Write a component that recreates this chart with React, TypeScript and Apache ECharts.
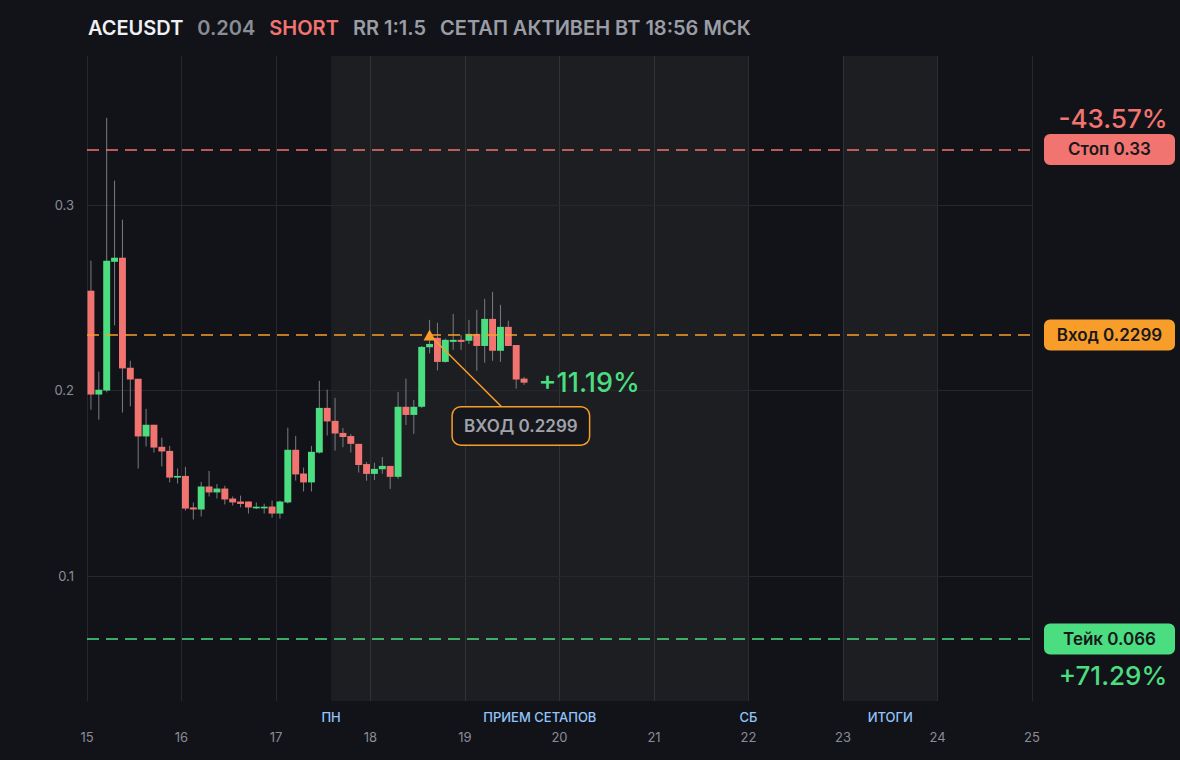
import React, { useEffect, useRef } from "react";
import * as echarts from "echarts";

// ---- data ----
const START_DAY = 15;
const CANDLE_HOURS = 2;
const opens = [
  0.2538, 0.1978, 0.2, 0.2694, 0.2716, 0.2122, 0.2063, 0.1752, 0.1815, 0.1696,
  0.1674, 0.153, 0.1539, 0.1369, 0.1358, 0.1482, 0.145, 0.1471, 0.1417, 0.1401,
  0.1401, 0.1364, 0.1364, 0.1374, 0.1336, 0.1396, 0.168, 0.1552, 0.1504, 0.1665,
  0.1906, 0.1836, 0.1771, 0.1754, 0.1712, 0.1603, 0.155, 0.1575, 0.1593, 0.1534,
  0.1912, 0.1868, 0.1912, 0.2233, 0.2284, 0.2154, 0.2262, 0.2273, 0.2268, 0.2305,
  0.224, 0.2386, 0.2214, 0.2343, 0.2245, 0.2064,
];
const closes = [
  0.1978, 0.2004, 0.27, 0.2716, 0.2119, 0.2059, 0.1752, 0.1815, 0.1692, 0.1671,
  0.153, 0.1539, 0.1363, 0.1358, 0.1482, 0.145, 0.1471, 0.1412, 0.1396, 0.1388,
  0.1369, 0.1373, 0.1373, 0.1336, 0.1401, 0.168, 0.1547, 0.1504, 0.1669, 0.1906,
  0.1833, 0.1768, 0.1749, 0.1712, 0.1598, 0.155, 0.1577, 0.1593, 0.1534, 0.1912,
  0.1868, 0.1912, 0.2235, 0.2251, 0.2154, 0.2273, 0.2273, 0.2262, 0.2305, 0.224,
  0.2386, 0.2214, 0.2343, 0.224, 0.2059, 0.2042,
];
const lows = [
  0.1896, 0.1842, 0.199, 0.2351, 0.1881, 0.1914, 0.1579, 0.1698, 0.1665, 0.159,
  0.1504, 0.1498, 0.1352, 0.1304, 0.132, 0.1428, 0.1417, 0.1385, 0.1379, 0.1369,
  0.1336, 0.136, 0.1336, 0.1314, 0.1309, 0.139, 0.1514, 0.1455, 0.1455, 0.166,
  0.1757, 0.1676, 0.1694, 0.1665, 0.1557, 0.1513, 0.1517, 0.155, 0.1469, 0.1523,
  0.1814, 0.1766, 0.1905, 0.22, 0.2108, 0.215, 0.2219, 0.2219, 0.225, 0.2106,
  0.2149, 0.216, 0.2154, 0.224, 0.201, 0.203,
];
const highs = [
  0.27, 0.2101, 0.3471, 0.3132, 0.2921, 0.216, 0.2063, 0.1901, 0.1815, 0.1745,
  0.1701, 0.1579, 0.1588, 0.1396, 0.1507, 0.1566, 0.1495, 0.1486, 0.1428, 0.1433,
  0.1401, 0.1396, 0.1389, 0.1406, 0.1406, 0.1799, 0.1755, 0.1584, 0.1701, 0.2052,
  0.2004, 0.196, 0.1798, 0.1765, 0.1712, 0.1614, 0.161, 0.1641, 0.1593, 0.1992,
  0.2064, 0.1949, 0.224, 0.2381, 0.2365, 0.228, 0.2413, 0.23, 0.2381, 0.2435,
  0.2494, 0.2532, 0.2462, 0.2376, 0.2245, 0.2073,
];

const dayTicks = [15, 16, 17, 18, 19, 20, 21, 22, 23, 24, 25];
const priceTicks = [0.1, 0.2, 0.3];

const STOP = 0.33;
const ENTRY = 0.2299;
const TAKE = 0.066;
const ENTRY_INDEX = 43;
const stopText = "Стоп 0.33";
const entryText = "Вход 0.2299";
const takeText = "Тейк 0.066";
const stopPct = "-43.57%";
const takePct = "+71.29%";
const currentPct = "+11.19%";
const calloutText = "ВХОД 0.2299";
const calloutAnchor = [19.39, 0.1911];

const sessionNames = ["ПРИЕМ СЕТАПОВ", "ИТОГИ"];
const sessionStarts = [17.5833, 23];
const sessionEnds = [22, 24];
const edgeNames = ["ПН", "СБ"];
const edgeDays = [17.5833, 22];

// ---- style ----
const BG = "#121318";
const GRID = "#27282d";
const GREEN = "#4ade80";
const RED = "#f27470";
const ORANGE = "#f99d2a";
const WICK = "#7a7c82";
const GRAY = "#8a8d96";
const BLUE = "#93c5fd";
const FONT = "Inter";

const candleTime = (i: number) => START_DAY + ((i + 0.5) * CANDLE_HOURS) / 24;

export default function App() {
  const ref = useRef<HTMLDivElement>(null);
  useEffect(() => {
    document.body.style.margin = "0";
    document.body.style.background = BG;
    const chart = echarts.init(ref.current!, undefined, { renderer: "svg" });
    const candles = opens.map((o, i) => [candleTime(i), o, closes[i], lows[i], highs[i]]);
    const last = candles.length - 1;
    const xEnd = dayTicks[dayTicks.length - 1];

    const pill = (text: string, color: string) => ({
      show: true,
      position: "inside",
      offset: [77.5, 0],
      formatter: text,
      backgroundColor: color,
      borderRadius: 6,
      width: 131,
      height: 31,
      lineHeight: 31,
      align: "center",
      verticalAlign: "middle",
      color: "#17181c",
      fontSize: 17,
      fontWeight: 600,
      fontFamily: FONT,
    });
    const pct = (text: string, color: string, dy: number) => ({
      show: true,
      position: "inside",
      offset: [81, dy],
      formatter: text,
      color,
      fontSize: 26,
      fontWeight: 500,
      fontFamily: FONT,
    });
    const hidden = { color: "rgba(0,0,0,0)" };

    chart.setOption({
      animation: false,
      backgroundColor: BG,
      textStyle: { fontFamily: FONT },
      title: {
        left: 88,
        top: 18,
        padding: 0,
        text: `{w|ACEUSDT}{g|0.204}{r|SHORT}{l|RR 1:1.5}{l|СЕТАП АКТИВЕН ВТ 18:56 МСК}`,
        textStyle: {
          rich: {
            w: { color: "#eef0f3", fontSize: 20, fontWeight: 600, fontFamily: FONT },
            g: { color: GRAY, fontSize: 20, fontWeight: 600, fontFamily: FONT, padding: [0, 0, 0, 14] },
            r: { color: RED, fontSize: 20, fontWeight: 600, fontFamily: FONT, padding: [0, 0, 0, 14] },
            l: { color: "#9a9da6", fontSize: 20, fontWeight: 600, fontFamily: FONT, padding: [0, 0, 0, 14] },
          },
        },
      },
      grid: { left: 87, right: 148, top: 56, bottom: 59 },
      xAxis: {
        type: "value",
        min: dayTicks[0],
        max: xEnd,
        interval: 1,
        axisLine: { show: false },
        axisTick: { show: false },
        splitLine: { show: true, lineStyle: { color: GRID, width: 1 } },
        axisLabel: { color: GRAY, fontSize: 13, margin: 29, fontFamily: FONT },
      },
      yAxis: {
        type: "value",
        min: 0.0325,
        max: 0.3804,
        axisLine: { show: false },
        axisTick: { show: false },
        splitLine: { show: false },
        axisLabel: {
          customValues: priceTicks,
          color: GRAY,
          fontSize: 13,
          margin: 13,
          fontFamily: FONT,
          formatter: (v: number) => String(v),
        },
      },
      series: [
        {
          type: "line",
          z: 1,
          data: [],
          silent: true,
          markArea: {
            silent: true,
            z: 1,
            itemStyle: { color: "rgba(255,255,255,0.048)" },
            label: {
              show: true,
              position: "bottom",
              distance: 9,
              color: BLUE,
              fontSize: 13,
              fontWeight: 500,
              fontFamily: FONT,
            },
            data: sessionNames.map((n, i) => [
              { name: n, xAxis: sessionStarts[i] },
              { xAxis: sessionEnds[i] },
            ]),
          },
          markLine: {
            silent: true,
            z: 1,
            precision: 6,
            symbol: ["none", "none"],
            data: [
              ...priceTicks.map((v) => ({
                yAxis: v,
                lineStyle: { color: GRID, width: 1, type: "solid" },
                label: { show: false },
              })),
              ...edgeNames.map((n, i) => ({
                xAxis: edgeDays[i],
                lineStyle: { color: "rgba(0,0,0,0)", width: 0 },
                label: {
                  show: true,
                  position: "start",
                  distance: 9,
                  formatter: n,
                  color: BLUE,
                  fontSize: 13,
                  fontWeight: 500,
                  fontFamily: FONT,
                },
              })),
            ],
          },
        },
        {
          type: "custom",
          z: 3,
          data: candles,
          encode: { x: 0, y: [1, 2, 3, 4] },
          renderItem: (params: any, api: any) => {
            const x = api.value(0);
            const o = api.value(1);
            const c = api.value(2);
            const l = api.value(3);
            const h = api.value(4);
            const pO = api.coord([x, o]);
            const pC = api.coord([x, c]);
            const pL = api.coord([x, l]);
            const pH = api.coord([x, h]);
            const w = api.size([CANDLE_HOURS / 24, 0])[0] * 0.88;
            const top = Math.min(pO[1], pC[1]);
            const bh = Math.max(Math.abs(pO[1] - pC[1]), 1.5);
            return {
              type: "group",
              children: [
                {
                  type: "line",
                  shape: { x1: pH[0], y1: pH[1], x2: pL[0], y2: pL[1] },
                  style: { stroke: WICK, lineWidth: 1 },
                },
                {
                  type: "rect",
                  shape: { x: pO[0] - w / 2, y: top, width: w, height: bh },
                  style: { fill: c >= o ? GREEN : RED },
                },
              ],
            };
          },
        },
        {
          type: "line",
          z: 5,
          data: [],
          markLine: {
            silent: true,
            z: 5,
            precision: 6,
            symbol: ["none", "none"],
            label: { show: false },
            data: [
              { yAxis: STOP, lineStyle: { color: RED, width: 1.5, type: [12, 7] } },
              { yAxis: ENTRY, lineStyle: { color: ORANGE, width: 1.5, type: [12, 7] } },
              { yAxis: TAKE, lineStyle: { color: GREEN, width: 1.5, type: [12, 7] } },
              [
                { coord: [candleTime(ENTRY_INDEX), ENTRY], lineStyle: { color: ORANGE, width: 1.5, type: "solid" } },
                { coord: calloutAnchor },
              ],
            ],
          },
          markPoint: {
            silent: true,
            z: 6,
            data: [
              {
                coord: [candleTime(ENTRY_INDEX), ENTRY],
                symbol: "triangle",
                symbolSize: [12, 11],
                itemStyle: { color: ORANGE },
                label: { show: false },
              },
              {
                coord: calloutAnchor,
                symbol: "circle",
                symbolSize: 1,
                itemStyle: hidden,
                label: {
                  show: true,
                  position: "inside",
                  offset: [19, 19],
                  formatter: calloutText,
                  backgroundColor: "#16171c",
                  borderColor: ORANGE,
                  borderWidth: 1.5,
                  borderRadius: 8,
                  width: 136,
                  height: 37,
                  lineHeight: 37,
                  align: "center",
                  verticalAlign: "middle",
                  color: "#a0a3ab",
                  fontSize: 17,
                  fontWeight: 600,
                  fontFamily: FONT,
                },
              },
              {
                coord: [candles[last][0], closes[last]],
                symbol: "circle",
                symbolSize: 1,
                itemStyle: hidden,
                label: {
                  show: true,
                  position: "right",
                  distance: 14,
                  formatter: currentPct,
                  color: GREEN,
                  fontSize: 27,
                  fontWeight: 500,
                  fontFamily: FONT,
                },
              },
              { coord: [xEnd, STOP], symbol: "circle", symbolSize: 1, itemStyle: hidden, label: pill(stopText, RED) },
              { coord: [xEnd, ENTRY], symbol: "circle", symbolSize: 1, itemStyle: hidden, label: pill(entryText, ORANGE) },
              { coord: [xEnd, TAKE], symbol: "circle", symbolSize: 1, itemStyle: hidden, label: pill(takeText, GREEN) },
              { coord: [xEnd, STOP], symbol: "circle", symbolSize: 1, itemStyle: hidden, label: pct(stopPct, RED, -31) },
              { coord: [xEnd, TAKE], symbol: "circle", symbolSize: 1, itemStyle: hidden, label: pct(takePct, GREEN, 37) },
            ],
          },
        },
      ],
    });
    return () => chart.dispose();
  }, []);
  return <div ref={ref} style={{ position: "fixed", left: 0, top: 0, width: 1180, height: 760, background: BG }} />;
}
